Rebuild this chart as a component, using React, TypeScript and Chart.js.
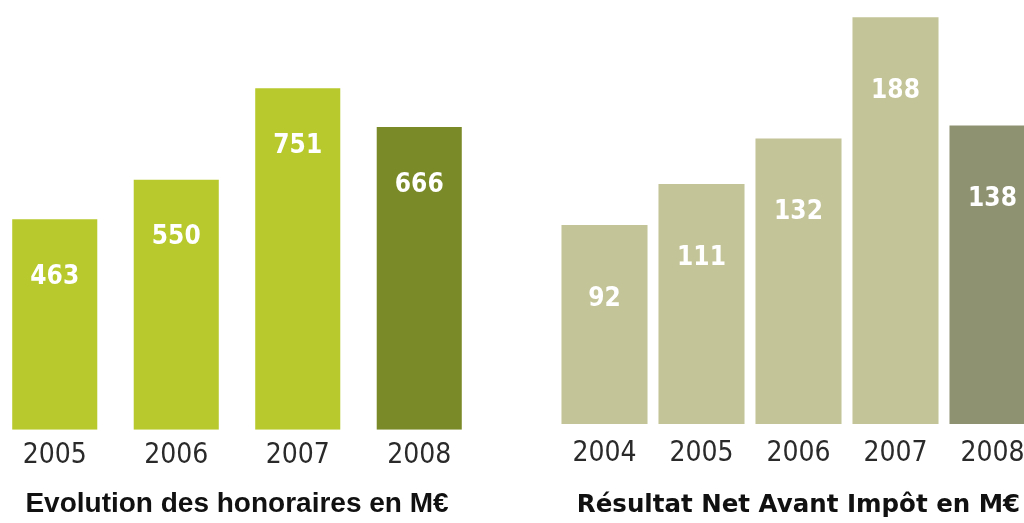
import React, { useEffect, useRef } from "react";
import { Chart, registerables } from "chart.js";

Chart.register(...registerables);

const feeYears = ["2005", "2006", "2007", "2008"];
const feeValues = [463, 550, 751, 666];
const feeTitle = "Evolution des honoraires en M€";

const profitYears = ["2004", "2005", "2006", "2007", "2008"];
const profitValues = [92, 111, 132, 188, 138];
const profitTitle = "Résultat Net Avant Impôt en M€";

const valueLabelPlugin = {
  id: "valueLabels",
  afterDatasetsDraw(chart: any, _args: any, opts: any) {
    const ctx = chart.ctx;
    const meta = chart.getDatasetMeta(0);
    const data = chart.data.datasets[0].data;
    ctx.save();
    ctx.fillStyle = opts.color || "#fff";
    ctx.font = opts.font || "bold 26px sans-serif";
    ctx.textAlign = "center";
    ctx.textBaseline = "middle";
    meta.data.forEach((bar: any, i: number) => {
      ctx.fillText(String(data[i]), bar.x, bar.y + (opts.offset || 0));
    });
    ctx.restore();
  },
};

type BarProps = {
  labels: string[];
  values: number[];
  colors: string[];
  title: string;
  titleFont: any;
  titlePadding: any;
  yMax: number;
  barPercentage: number;
  tickPadding: number;
  labelOffset: number;
  left: number;
  width: number;
};

function BarChart(p: BarProps) {
  const ref = useRef<HTMLCanvasElement>(null);
  useEffect(() => {
    if (!ref.current) return;
    const chart = new Chart(ref.current, {
      type: "bar",
      data: {
        labels: p.labels,
        datasets: [
          {
            data: p.values,
            backgroundColor: p.colors,
            borderWidth: 0,
            barPercentage: p.barPercentage,
            categoryPercentage: 1,
          },
        ],
      },
      options: {
        responsive: false,
        animation: false,
        layout: { padding: 0 },
        plugins: {
          legend: { display: false },
          tooltip: { enabled: false },
          title: {
            display: true,
            text: p.title,
            position: "bottom",
            color: "#111",
            font: p.titleFont,
            padding: p.titlePadding,
          },
          valueLabels: {
            offset: p.labelOffset,
            color: "#ffffff",
            font: "bold 26px 'DejaVu Sans Condensed', 'Liberation Sans Narrow', sans-serif",
          },
        } as any,
        scales: {
          x: {
            grid: { display: false, drawTicks: false },
            border: { display: false },
            ticks: {
              color: "#2a2a2a",
              padding: p.tickPadding,
              font: { family: "'Liberation Sans Narrow', 'DejaVu Sans Condensed', sans-serif", size: 28 },
            },
          },
          y: {
            display: false,
            min: 0,
            max: p.yMax,
          },
        },
      },
      plugins: [valueLabelPlugin],
    });
    return () => chart.destroy();
  }, []);
  return (
    <canvas
      ref={ref}
      width={p.width}
      height={523}
      style={{ position: "absolute", left: p.left, top: 0, width: p.width, height: 523 }}
    />
  );
}

export default function App() {
  return (
    <div
      style={{
        position: "fixed",
        left: 0,
        top: 0,
        width: 1024,
        height: 523,
        overflow: "hidden",
        background: "#ffffff",
      }}
    >
      <BarChart
        labels={feeYears}
        values={feeValues}
        colors={["#b7c92c", "#b7c92c", "#b7c92c", "#7b8a29"]}
        title={feeTitle}
        titleFont={{ family: "'Liberation Sans', Arial, sans-serif", size: 28, weight: "bold" }}
        titlePadding={{ top: 6, bottom: 2 }}
        yMax={945}
        barPercentage={0.7}
        tickPadding={9}
        labelOffset={58}
        left={-6}
        width={486}
      />
      <BarChart
        labels={profitYears}
        values={profitValues}
        colors={["#c3c497", "#c3c497", "#c3c497", "#c3c497", "#8f9271"]}
        title={profitTitle}
        titleFont={{ family: "'DejaVu Sans', sans-serif", size: 24.5, weight: "bold" }}
        titlePadding={{ top: 7, bottom: 3 }}
        yMax={196}
        barPercentage={0.887}
        tickPadding={13}
        labelOffset={74}
        left={556}
        width={485}
      />
    </div>
  );
}
